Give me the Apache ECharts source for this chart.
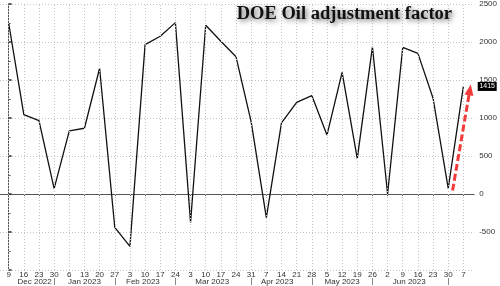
<!DOCTYPE html>
<html>
<head>
<meta charset="utf-8">
<style>html,body{margin:0;padding:0;background:#fff}#c{width:500px;height:286px}</style>
<script src="https://cdn.jsdelivr.net/npm/echarts@6/dist/echarts.min.js"></script>
</head>
<body>
<div id="c"></div>
<script>
// Weekly dates (Fridays)
var dates = ['2022-12-09','2022-12-16','2022-12-23','2022-12-30',
  '2023-01-06','2023-01-13','2023-01-20','2023-01-27',
  '2023-02-03','2023-02-10','2023-02-17','2023-02-24',
  '2023-03-03','2023-03-10','2023-03-17','2023-03-24','2023-03-31',
  '2023-04-07','2023-04-14','2023-04-21','2023-04-28',
  '2023-05-05','2023-05-12','2023-05-19','2023-05-26',
  '2023-06-02','2023-06-09','2023-06-16','2023-06-23','2023-06-30',
  '2023-07-07'];
var values = [2250, 1045, 965, 70, 830, 865, 1655, -440, -690, 1965, 2075, 2255,
  -375, 2220, 2010, 1805, 950, -310, 935, 1205, 1295, 775, 1600, 465, 1935,
  0, 1930, 1850, 1260, 75, 1415];
var monthLabels = ['Dec 2022','Jan 2023','Feb 2023','Mar 2023','Apr 2023','May 2023','Jun 2023'];
var monthLabelDates = ['2022-12-21','2023-01-13','2023-02-09','2023-03-13','2023-04-12','2023-05-12','2023-06-12'];
var monthSeparators = ['2022-12-30','2023-01-27','2023-02-24','2023-03-31','2023-04-28','2023-05-26','2023-06-30'];
var yTicks = [-1000, -500, 0, 500, 1000, 1500, 2000, 2500];
var lastValue = 1415;
var axisStart = '2022-12-05', axisEnd = '2023-07-12';
var arrowFrom = ['2023-07-02', 45], arrowTo = ['2023-07-10', 1370];

var DAY = 86400000;
var origin = Date.UTC(2022, 11, 9);
function dayOf(s) {
  var p = s.split('-');
  return (Date.UTC(+p[0], +p[1] - 1, +p[2]) - origin) / DAY;
}
function dayNum(d) {
  return new Date(origin + d * DAY).getUTCDate();
}
var xs = dates.map(dayOf);
var seriesData = xs.map(function (x, i) { return [x, values[i]]; });
var monthPos = monthLabelDates.map(dayOf);

var font = 'Liberation Sans';
var gridColor = '#c4c4c4';
var chart = echarts.init(document.getElementById('c'), null, {renderer: 'canvas'});
chart.setOption({
  animation: false,
  backgroundColor: '#fff',
  title: {
    text: 'DOE Oil adjustment factor',
    right: 48, top: 5, padding: 0,
    textStyle: {
      fontFamily: 'Liberation Serif', fontWeight: 'bold', fontSize: 18.5, color: '#111',
      textShadowColor: 'rgba(0,0,0,0.6)', textShadowBlur: 5,
      textShadowOffsetX: 2, textShadowOffsetY: 2
    }
  },
  grid: {left: 0, right: 22, top: 1, bottom: 15, containLabel: false},
  xAxis: [{
    type: 'value', min: dayOf(axisStart), max: dayOf(axisEnd),
    axisLine: {show: true, lineStyle: {color: '#555', width: 1}},
    axisTick: {show: true, length: 2, customValues: xs, lineStyle: {color: '#555'}},
    axisLabel: {show: true, customValues: xs, margin: 1, fontSize: 8, fontFamily: font, color: '#333',
      formatter: function (v) { return String(dayNum(v)); }},
    splitLine: {show: false}
  }, {
    type: 'value', min: dayOf(axisStart), max: dayOf(axisEnd), position: 'bottom', offset: 8,
    axisLine: {show: false},
    axisTick: {show: true, length: 7, customValues: monthSeparators.map(dayOf), lineStyle: {color: '#888'}},
    axisLabel: {show: true, customValues: monthPos, margin: 0, fontSize: 8, fontFamily: font, color: '#333',
      formatter: function (v) {
        var i = monthPos.indexOf(v);
        return i >= 0 ? monthLabels[i] : '';
      }},
    splitLine: {show: false}
  }],
  yAxis: {
    type: 'value', position: 'right', min: yTicks[0], max: yTicks[yTicks.length - 1], interval: 500,
    axisLine: {show: true, lineStyle: {color: '#555', width: 1}},
    axisTick: {show: true, length: 3, inside: false, lineStyle: {color: '#333', width: 1.5}},
    minorTick: {show: true, splitNumber: 2, length: 2, lineStyle: {color: '#666'}},
    axisLabel: {show: true, margin: 5, fontSize: 8, fontFamily: font, color: '#333',
      formatter: function (v) { return v === yTicks[0] ? '' : String(v); }},
    splitLine: {show: true, lineStyle: {color: gridColor, type: [1, 2], width: 1}}
  },
  series: [{
    // vertical weekly grid lines
    type: 'line', xAxisIndex: 0, data: [], silent: true,
    markLine: {
      silent: true, symbol: ['none', 'none'], animation: false,
      label: {show: false},
      lineStyle: {color: gridColor, type: [1, 2], width: 1},
      data: xs.map(function (x) { return {xAxis: x}; })
    }
  }, {
    type: 'line', xAxisIndex: 0, data: seriesData, showSymbol: false, symbol: 'none',
    lineStyle: {color: '#111', width: 1.3},
    z: 3,
    markLine: {
      silent: true, symbol: ['none', 'triangle'], symbolSize: [9, 11],
      lineStyle: {color: '#f23b3b', type: [7, 3], width: 3},
      label: {show: false},
      data: [[{coord: [dayOf(arrowFrom[0]), arrowFrom[1]]}, {coord: [dayOf(arrowTo[0]), arrowTo[1]]}]]
    },
    markPoint: {
      silent: true,
      data: [{coord: [dayOf(axisEnd), lastValue], value: lastValue}],
      symbol: 'rect', symbolSize: [19, 9], symbolOffset: [13, 0],
      itemStyle: {color: '#000'},
      label: {show: true, position: 'inside', color: '#fff', fontSize: 7, fontFamily: font,
        formatter: function (p) { return String(p.value); }}
    }
  }]
});
</script>
</body>
</html>
